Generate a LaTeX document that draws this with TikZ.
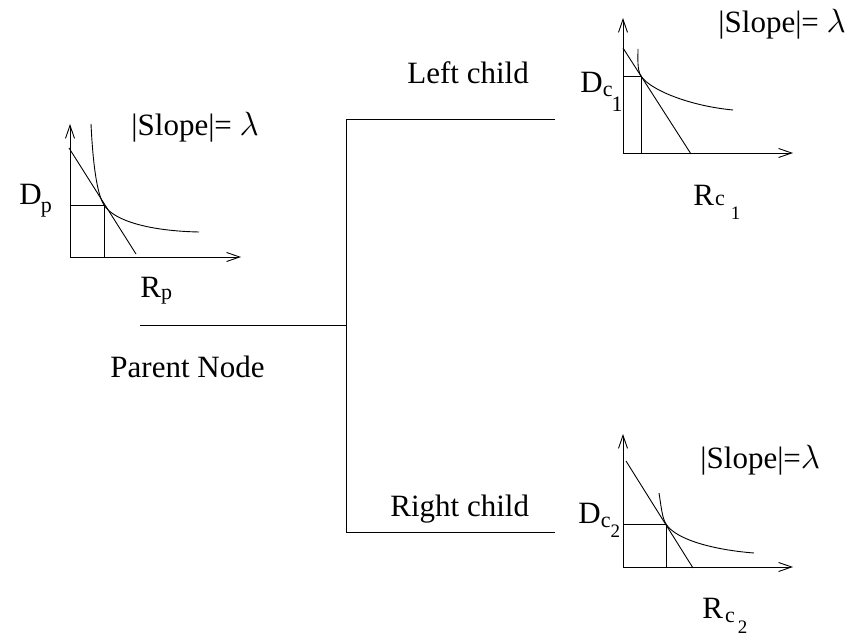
\documentclass[tikz,border=0pt]{standalone}
\usepackage{fontspec}
\setmainfont{Liberation Serif}
\usetikzlibrary{arrows.meta}

% smaller sizes for the index letters of the axis labels
\newcommand{\idxfont}{\fontsize{22}{22}\selectfont}
\newcommand{\idxsmall}{\fontsize{19}{19}\selectfont}
% a slightly enlarged lambda
\newcommand{\lam}{\scalebox{1.35}{$\lambda$}}

\begin{document}
\begin{tikzpicture}[x=1pt, y=-1pt, line width=0.9pt,
  lbl/.style={anchor=base west, inner sep=0pt, font=\fontsize{31}{36}\selectfont},
  axis/.style={-{Straight Barb[length=13pt, width=9pt]}}]
\useasboundingbox (0,0) rectangle (854,636);

% ---- tree connectors ----
\coordinate (pstart) at (140,325);
\coordinate (junc)   at (346,325);
\coordinate (ltop)   at (346,119);
\coordinate (lend)   at (555,119);
\coordinate (rbot)   at (346,532);
\coordinate (rend)   at (555,532);
\draw (pstart) -- (junc);
\draw (lend) -- (ltop) -- (rbot) -- (rend);

% ---- parent R-D curve ----
\draw[axis] (70,257) -- (70,124);
\draw[axis] (70,257) -- (241,257);
\draw (69,148) -- (136,254);
\draw (70,205) -- (104,205) -- (104,257);
\draw (91,124) .. controls (93,165) and (97,194) .. (104,205)
               .. controls (114,221) and (150,231) .. (199,232);

% ---- left child R-D curve ----
\draw[axis] (623,153) -- (623,18);
\draw[axis] (623,153) -- (793,153);
\draw (623,48) -- (691,154);
\draw (623,76) -- (641,76) -- (641,153);
\draw (638,49) .. controls (638,58) and (637,70) .. (641,76)
               .. controls (650,90) and (690,106) .. (733,110);

% ---- right child R-D curve ----
\draw[axis] (623,567) -- (623,434);
\draw[axis] (623,567) -- (793,567);
\draw (626,461) -- (693,568);
\draw (623,524) -- (666,524) -- (666,567);
\draw (659,493) .. controls (661,505) and (662,518) .. (666,524)
               .. controls (676,540) and (715,550) .. (754,553);

% ---- labels ----
\node[lbl] (pslope)    at (131,136) {|Slope|= \lam};
\node[lbl] (lslope)    at (718,33)  {|Slope|= \lam};
\node[lbl] (rslope)    at (700,468) {|Slope|=\lam};
\node[lbl] (leftlbl)   at (407,84)  {Left child};
\node[lbl] (rightlbl)  at (390,516) {Right child};
\node[lbl] (parentlbl) at (110,377) {Parent Node};
\node[lbl] (dp)  at (19,205)  {D\kern-1pt\raisebox{-8pt}{\idxfont p}};
\node[lbl] (rp)  at (140,298) {R\raisebox{-2pt}{\idxfont p}};
\node[lbl] (dc1) at (580,93)  {D\raisebox{-4pt}{\idxfont c}\kern-1pt\raisebox{-19pt}{\idxfont 1}};
\node[lbl] (rc1) at (693,206) {R\kern1pt{\idxfont c}\kern6pt\raisebox{-14pt}{\idxsmall 1}};
\node[lbl] (dc2) at (578,523) {D\raisebox{-4pt}{\idxfont c}\raisebox{-14pt}{\idxsmall 2}};
\node[lbl] (rc2) at (702,618) {R\kern2pt\raisebox{-4pt}{\idxfont c}\kern3pt\raisebox{-15pt}{\idxsmall 2}};
\end{tikzpicture}
\end{document}
